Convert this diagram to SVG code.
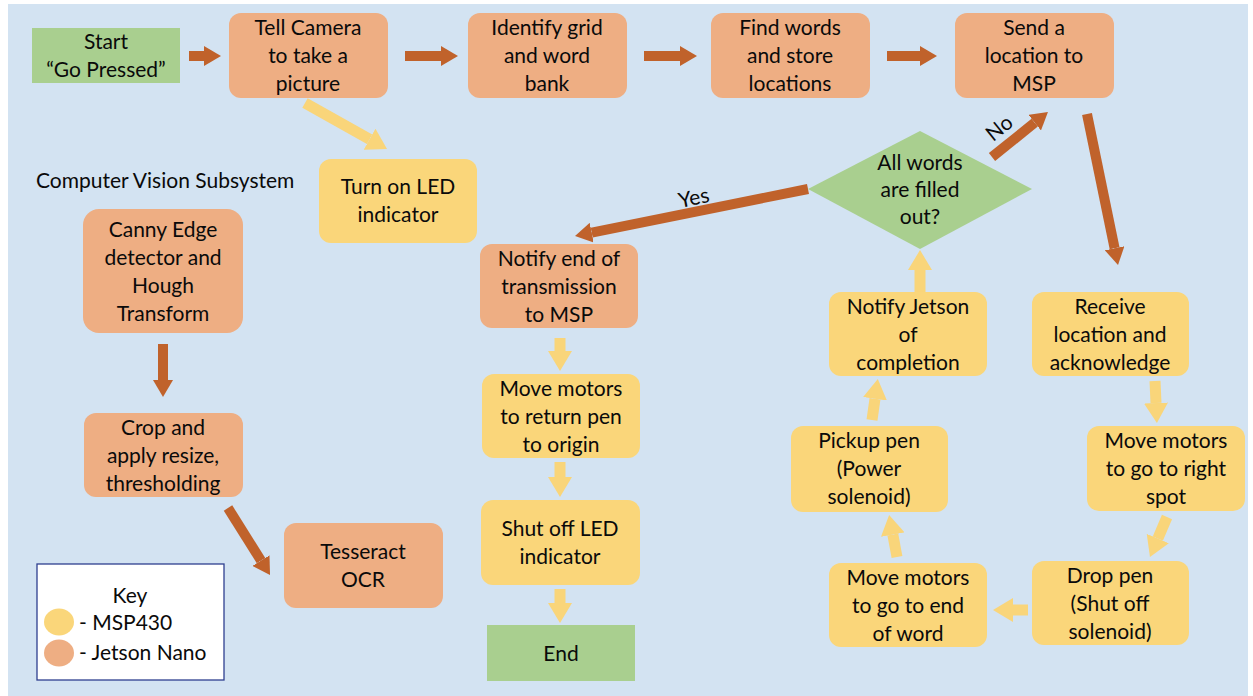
<svg xmlns="http://www.w3.org/2000/svg" width="1253" height="696" viewBox="0 0 1253 696">
<defs>
<style>
text{font-family:Lato,"Open Sans","Liberation Sans",sans-serif;font-size:21px;fill:#0a0a0a;text-anchor:middle}
.or{fill:#EEAE83}
.ye{fill:#FAD67A}
.gr{fill:#A9CF8F}
.ao{stroke:#C0622B;stroke-width:10;fill:none;marker-end:url(#mo)}
.ay{stroke:#F9D57A;stroke-width:11;fill:none;marker-end:url(#my)}
</style>
<marker id="mo" markerUnits="userSpaceOnUse" markerWidth="18" markerHeight="20" refX="0" refY="10" orient="auto" viewBox="0 0 18 20"><path d="M0,0 L17,10 L0,20 z" fill="#C0622B"/></marker>
<marker id="my" markerUnits="userSpaceOnUse" markerWidth="21" markerHeight="24" refX="0" refY="12" orient="auto" viewBox="0 0 21 24"><path d="M0,0 L20,12 L0,24 z" fill="#F9D57A"/></marker>
</defs>
<rect x="0" y="0" width="1253" height="696" fill="#fff"/>
<rect x="8" y="4" width="1240" height="692" fill="#D3E3F2"/>

<g id="connectors">
<line class="ao" x1="189" y1="56" x2="204" y2="56"/>
<line class="ao" x1="405" y1="56" x2="441" y2="56"/>
<line class="ao" x1="644" y1="56" x2="680" y2="56"/>
<line class="ao" x1="887" y1="56" x2="920" y2="56"/>
<line class="ao" x1="1087" y1="114" x2="1114.6" y2="248.3"/>
<line class="ao" x1="992" y1="157" x2="1034.7" y2="122.7"/>
<line class="ao" x1="808" y1="189" x2="591.7" y2="232.6"/>
<line class="ao" x1="163" y1="344" x2="163" y2="380"/>
<line class="ao" x1="228" y1="508" x2="261" y2="560.6"/>
<line class="ay" x1="305" y1="103" x2="369.6" y2="139.2"/>
<line class="ay" x1="560" y1="338" x2="560" y2="351"/>
<line class="ay" x1="560" y1="462" x2="560" y2="477"/>
<line class="ay" x1="560" y1="589" x2="560" y2="603"/>
<line class="ay" x1="920" y1="293" x2="920" y2="270"/>
<line class="ay" x1="872" y1="420" x2="875" y2="398.8"/>
<line class="ay" x1="897" y1="557" x2="892.8" y2="534.6"/>
<line class="ay" x1="1028" y1="610" x2="1013" y2="610"/>
<line class="ay" x1="1167" y1="517" x2="1157.8" y2="538.6"/>
<line class="ay" x1="1155" y1="381" x2="1156" y2="403"/>
<text x="694" y="205" font-size="18.5" transform="rotate(-11.4 694 199)">Yes</text>
<text x="1000" y="135" font-size="18.5" transform="rotate(-38.8 1000 129)">No</text>
</g>

<g id="start"><rect class="gr" x="32" y="28" width="148" height="55"/><text x="106" y="49">Start</text><text x="106" y="77">“Go Pressed”</text></g>
<g id="tell-camera"><rect class="or" x="229" y="13" width="159" height="85" rx="12"/><text x="308" y="35">Tell Camera</text><text x="308" y="63">to take a</text><text x="308" y="91">picture</text></g>
<g id="identify-grid"><rect class="or" x="468" y="13" width="159" height="85" rx="12"/><text x="547" y="35">Identify grid</text><text x="547" y="63">and word</text><text x="547" y="91">bank</text></g>
<g id="find-words"><rect class="or" x="711" y="13" width="159" height="85" rx="12"/><text x="790" y="35">Find words</text><text x="790" y="63">and store</text><text x="790" y="91">locations</text></g>
<g id="send-location"><rect class="or" x="955" y="13" width="159" height="85" rx="12"/><text x="1034" y="35">Send a</text><text x="1034" y="63">location to</text><text x="1034" y="91">MSP</text></g>
<g id="turn-on-led"><rect class="ye" x="319" y="159" width="158" height="84" rx="12"/><text x="398" y="194">Turn on LED</text><text x="398" y="222">indicator</text></g>
<g id="subsystem-label"><text x="36" y="188" style="text-anchor:start" font-size="20.7">Computer Vision Subsystem</text></g>
<g id="canny"><rect class="or" x="83" y="209" width="160" height="124" rx="16"/><text x="163" y="237">Canny Edge</text><text x="163" y="265">detector and</text><text x="163" y="293">Hough</text><text x="163" y="321">Transform</text></g>
<g id="crop"><rect class="or" x="84" y="413" width="159" height="84" rx="12"/><text x="163" y="435">Crop and</text><text x="163" y="463">apply resize,</text><text x="163" y="491">thresholding</text></g>
<g id="tesseract"><rect class="or" x="284" y="523" width="159" height="85" rx="12"/><text x="363" y="559">Tesseract</text><text x="363" y="587">OCR</text></g>
<g id="notify-end"><rect class="or" x="480" y="244" width="158" height="84" rx="12"/><text x="559" y="266">Notify end of</text><text x="559" y="294">transmission</text><text x="559" y="322">to MSP</text></g>
<g id="move-return"><rect class="ye" x="482" y="374" width="158" height="84" rx="12"/><text x="561" y="396">Move motors</text><text x="561" y="424">to return pen</text><text x="561" y="452">to origin</text></g>
<g id="shut-off-led"><rect class="ye" x="481" y="500" width="159" height="85" rx="12"/><text x="560" y="536">Shut off LED</text><text x="560" y="564">indicator</text></g>
<g id="end"><rect class="gr" x="487" y="625" width="148" height="56"/><text x="561" y="661">End</text></g>
<g id="decision"><polygon class="gr" points="808,189 920,131 1032,189 920,249"/><text x="920" y="170">All words</text><text x="920" y="197">are filled</text><text x="920" y="224">out?</text></g>
<g id="notify-jetson"><rect class="ye" x="829" y="292" width="158" height="84" rx="12"/><text x="908" y="314">Notify Jetson</text><text x="908" y="342">of</text><text x="908" y="370">completion</text></g>
<g id="receive"><rect class="ye" x="1032" y="292" width="157" height="84" rx="12"/><text x="1110" y="314">Receive</text><text x="1110" y="342">location and</text><text x="1110" y="370">acknowledge</text></g>
<g id="move-right"><rect class="ye" x="1087" y="426" width="158" height="85" rx="12"/><text x="1166" y="448">Move motors</text><text x="1166" y="476">to go to right</text><text x="1166" y="504">spot</text></g>
<g id="pickup"><rect class="ye" x="791" y="426" width="157" height="86" rx="12"/><text x="869" y="448">Pickup pen</text><text x="869" y="476">(Power</text><text x="869" y="504">solenoid)</text></g>
<g id="move-end"><rect class="ye" x="829" y="563" width="158" height="84" rx="12"/><text x="908" y="585">Move motors</text><text x="908" y="613">to go to end</text><text x="908" y="641">of word</text></g>
<g id="drop-pen"><rect class="ye" x="1032" y="561" width="157" height="84" rx="12"/><text x="1110" y="583">Drop pen</text><text x="1110" y="611">(Shut off</text><text x="1110" y="639">solenoid)</text></g>
<g id="key"><rect x="37" y="564" width="187" height="116" fill="#fff" stroke="#2F3F8F" stroke-width="1.3"/><text x="130" y="603">Key</text><ellipse class="ye" cx="59" cy="622" rx="15" ry="13.5"/><ellipse class="or" cx="59" cy="653" rx="15" ry="13.5"/><text x="79" y="630" style="text-anchor:start">- MSP430</text><text x="79" y="660" style="text-anchor:start">- Jetson Nano</text></g>
</svg>
